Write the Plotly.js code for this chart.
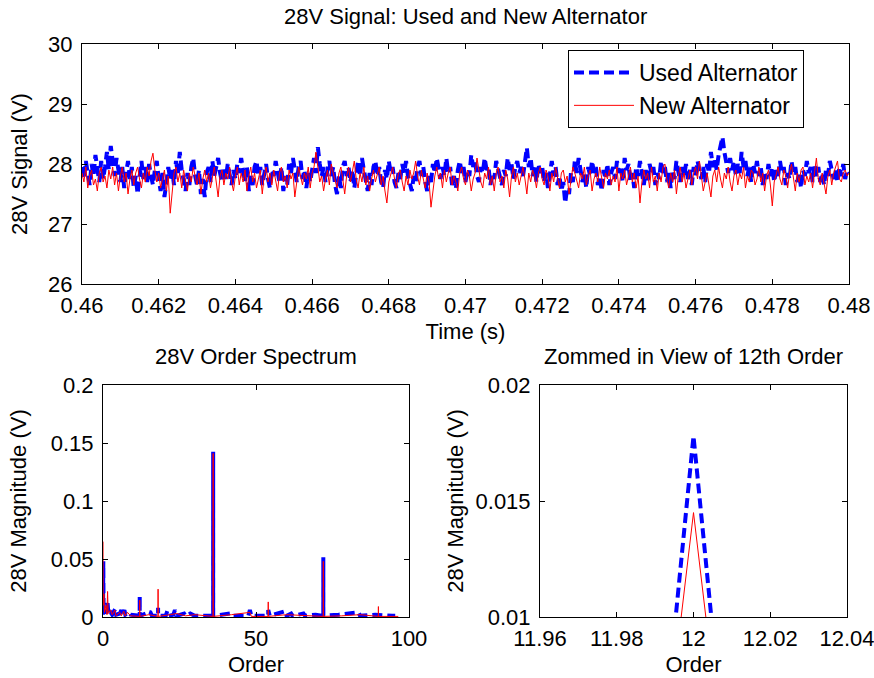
<!DOCTYPE html>
<html>
<head>
<meta charset="utf-8">
<script src="https://cdn.plot.ly/plotly-3.0.1.min.js"></script>
<style>html,body{margin:0;padding:0;background:#fff;}#chart{width:874px;height:678px;}</style>
</head>
<body>
<div id="chart"></div>
<script>
// ---- Time signal (0.46 s .. 0.48 s, 401 samples) ----
var tStart = 0.46;
var tStep = 0.00005;
var usedSignal = [
27.95,27.75,28.05,27.85,27.65,28.00,27.80,28.15,27.90,27.70,28.05,27.75,27.95,28.20,27.90,28.30,28.05,27.80,28.10,27.85,
27.70,27.95,27.60,27.85,28.05,27.75,27.95,27.60,27.80,27.50,27.85,28.05,27.75,27.95,27.70,28.00,27.80,27.65,27.90,28.05,
27.75,27.55,27.85,27.45,27.70,27.95,27.75,27.90,27.65,28.05,27.85,28.20,27.90,27.70,27.55,27.85,27.65,27.95,28.10,27.80,
27.65,27.90,27.50,27.75,27.45,27.85,27.95,27.70,28.05,27.80,27.95,28.10,27.85,27.70,27.95,27.75,28.00,27.85,27.65,27.90,
27.75,28.00,27.85,28.10,27.90,27.70,27.95,27.55,27.80,27.65,27.95,28.05,27.80,27.95,27.65,27.85,28.00,27.75,27.60,27.90,
27.80,28.05,27.85,27.70,27.95,27.55,27.80,27.65,28.00,27.85,28.10,27.90,27.70,27.95,28.05,27.75,27.90,27.60,27.85,27.70,
27.95,28.10,27.85,28.28,28.00,27.80,27.95,27.70,27.90,28.05,27.80,27.95,27.65,27.50,27.80,27.60,27.95,28.05,27.80,27.95,
27.70,27.90,27.60,27.85,28.05,27.80,28.10,27.90,27.70,27.55,27.85,27.65,27.95,28.05,27.80,27.95,27.70,27.60,27.90,27.75,
28.05,27.85,27.95,27.70,27.60,27.85,27.75,28.00,27.85,28.05,27.80,27.65,27.55,27.80,27.70,27.95,28.05,27.80,27.95,27.70,
27.55,27.80,27.70,28.00,27.85,28.10,27.90,27.75,27.95,27.80,28.10,27.85,27.95,27.65,27.80,27.60,27.90,28.05,27.85,27.95,
27.70,27.90,27.80,28.15,27.95,28.05,27.80,27.70,27.95,27.85,28.10,27.90,27.95,27.65,27.85,27.75,28.05,27.90,27.80,27.65,
27.90,27.80,28.10,27.90,28.00,27.75,27.95,28.05,27.85,27.95,27.80,28.05,28.27,27.95,28.10,27.80,27.95,27.70,28.00,27.85,
27.95,27.70,27.85,27.60,27.90,28.05,27.80,27.95,27.65,27.80,27.55,27.70,27.35,27.60,27.50,27.85,27.70,28.05,27.85,28.10,
27.90,27.70,27.85,27.60,27.95,27.80,28.05,27.85,27.95,27.65,27.80,27.55,27.90,27.75,28.00,27.65,27.85,27.95,27.75,28.05,
27.85,27.95,27.70,28.10,27.90,28.00,27.70,27.85,27.60,27.95,27.80,28.05,27.85,27.65,27.90,27.70,28.00,27.85,27.95,27.65,
27.85,27.75,28.05,27.85,27.95,27.70,27.85,27.60,27.90,27.75,28.05,27.85,27.70,27.95,27.80,28.00,27.75,27.90,27.65,27.95,
27.80,28.05,27.90,27.75,27.95,27.70,28.00,27.85,28.20,27.95,28.10,27.90,28.15,28.35,28.45,28.20,28.05,27.85,28.10,27.90,
28.05,27.80,28.00,27.85,28.20,27.95,28.05,27.80,27.95,27.70,28.00,27.85,28.05,27.80,27.95,27.65,27.85,27.75,28.00,27.80,
27.95,27.70,27.90,27.80,28.05,27.85,27.95,27.65,27.85,27.75,28.05,27.85,27.95,27.70,27.85,27.60,27.90,27.80,28.05,27.85,
27.95,27.70,28.00,27.80,27.95,27.70,27.85,27.65,27.90,27.80,28.05,27.85,27.75,27.90,27.70,27.95,27.80,28.00,27.75,27.90,
27.85
];
var newSignal = [
27.85,27.70,27.95,27.60,27.80,27.90,27.65,27.75,27.55,27.85,27.95,27.70,27.80,27.60,27.90,27.75,27.95,27.65,27.85,27.55,
27.80,27.95,27.70,27.85,27.50,27.75,27.90,27.65,27.85,27.95,27.75,27.60,27.85,27.70,27.95,27.80,28.05,28.18,27.90,27.70,
27.85,27.60,27.75,27.90,27.55,27.80,27.18,27.50,27.85,27.95,27.70,27.85,27.60,27.90,27.75,27.55,27.85,27.70,27.95,27.80,
27.65,27.85,27.50,27.75,27.90,27.70,27.85,27.60,27.80,27.95,27.70,27.45,27.80,27.90,27.65,27.85,27.75,27.95,27.70,27.55,
27.80,27.95,27.65,27.85,27.70,27.90,27.55,27.80,27.95,27.70,27.85,27.60,27.75,27.90,27.50,27.80,27.95,27.70,27.85,27.65,
27.90,27.75,27.55,27.85,27.95,27.70,27.80,27.60,27.90,27.75,27.85,27.45,27.70,27.95,27.80,27.65,27.85,27.75,27.95,27.60,
27.85,27.95,28.20,27.90,27.70,27.80,27.55,27.75,27.90,27.65,28.00,27.85,27.70,27.60,27.85,27.95,27.75,27.50,27.80,27.95,
27.70,27.85,28.05,27.75,27.60,27.85,27.70,27.95,27.65,27.80,27.55,27.75,27.90,27.70,27.85,27.95,27.65,27.80,27.55,27.35,
27.70,27.85,27.95,27.75,27.60,27.85,27.90,27.70,27.55,27.80,27.65,27.90,27.75,27.85,28.05,27.80,27.65,27.90,27.75,27.60,
27.85,27.70,27.28,27.60,27.80,27.95,27.75,27.85,27.60,27.90,27.70,27.85,27.95,27.65,27.80,27.70,27.55,27.85,27.95,27.75,
27.65,27.90,27.80,27.55,27.75,27.85,28.10,27.90,27.70,27.60,27.85,27.75,27.95,27.65,27.80,27.55,27.85,27.95,27.70,27.80,
27.60,27.90,27.75,27.45,27.80,27.95,27.70,27.85,27.65,27.80,27.95,27.75,27.50,27.85,27.70,27.90,27.80,27.60,27.85,27.95,
27.75,27.65,27.90,27.80,27.55,27.85,27.70,27.95,27.75,27.60,27.85,27.90,27.70,27.80,27.50,27.75,27.95,27.85,27.70,27.60,
27.85,27.75,27.95,27.65,27.80,27.90,27.55,27.75,27.85,27.70,27.95,27.80,27.60,27.85,27.75,27.90,27.65,27.80,27.70,27.95,
27.55,27.85,27.75,27.90,27.65,27.80,27.95,27.70,27.85,27.60,27.80,27.35,27.70,27.90,27.75,27.85,27.60,27.95,27.70,27.80,
27.55,27.85,27.70,27.95,28.00,27.75,27.60,27.85,27.70,27.90,27.50,27.80,27.95,27.70,27.85,27.60,27.75,27.90,27.65,27.85,
27.95,27.75,28.05,27.80,27.55,27.70,27.85,27.65,27.45,27.80,27.90,27.70,27.95,27.75,27.60,27.85,27.75,27.95,27.70,27.55,
27.80,27.90,27.65,27.85,27.75,27.95,27.60,27.80,27.70,27.90,27.85,27.65,27.75,27.95,27.70,27.85,27.55,27.80,27.90,27.65,
27.30,27.70,27.85,27.95,27.75,27.65,27.90,27.80,27.60,27.85,28.00,27.75,27.55,27.85,27.70,27.90,27.95,27.65,27.80,27.70,
27.85,27.60,27.90,28.10,27.75,27.65,27.85,27.70,27.50,27.80,27.90,27.65,27.85,27.95,28.05,27.75,27.70,27.85,27.90,27.80,
27.85
];

// ---- Order spectrum (sparse read-off points) ----
var usedOrder = [0,0.1,0.2,0.6,1.0,1.5,1.8,2.5,3.0,4.0,4.3,5.5,6.0,6.3,7.0,7.3,8.5,9.0,11.99,12.00,12.01,14.0,14.5,15.5,16.0,17.99,18.00,18.01,20.5,21.0,21.5,23.0,23.5,24.0,26.5,27.0,28.5,29.5,30.0,35.99,36.00,36.01,41.5,42.0,47.5,48.0,48.5,53.99,54.00,54.5,59.5,60.0,61.5,62.0,65.5,66.0,69.5,71.99,72.00,72.01,77.0,83.5,84.0,89.0,94.5,95.5];
var usedMag   = [0.002,0.048,0.004,0.006,0.003,0.012,0.002,0.004,0.002,0.007,0.002,0.003,0.006,0.002,0.006,0.002,0.004,0.002,0.001,0.0178,0.001,0.003,0.005,0.004,0.001,0.001,0.008,0.001,0.001,0.005,0.001,0.002,0.006,0.001,0.003,0.001,0.003,0.002,0.001,0.001,0.1425,0.001,0.003,0.001,0.001,0.006,0.001,0.001,0.006,0.001,0.005,0.001,0.003,0.001,0.003,0.001,0.002,0.001,0.0515,0.001,0.002,0.004,0.001,0.002,0.001,0.001];
var newOrder  = [0,0.05,0.3,0.5,1.0,1.3,1.5,1.7,2.5,3.0,3.9,4.2,5.5,6.0,6.8,7.2,8.0,9.0,11.99,12.00,12.01,15.0,17.99,18.00,18.01,22.0,24.0,27.0,30.0,35.99,36.00,36.01,42.0,48.0,48.5,53.99,54.00,54.01,60.0,66.0,71.99,72.00,72.01,78.0,84.0,89.99,90.00,90.01,96.5];
var newMag    = [0.065,0.01,0.02,0.004,0.01,0.002,0.022,0.003,0.006,0.002,0.006,0.001,0.004,0.001,0.005,0.001,0.004,0.001,0.0005,0.0145,0.0005,0.002,0.0005,0.024,0.0005,0.002,0.003,0.001,0.002,0.0005,0.141,0.0005,0.002,0.004,0.0005,0.0005,0.013,0.0005,0.002,0.001,0.0005,0.048,0.0005,0.001,0.002,0.0005,0.009,0.0005,0.0005];

// ---- Tick labels ----
var timeTicks = [0.46,0.462,0.464,0.466,0.468,0.47,0.472,0.474,0.476,0.478,0.48];
var timeTickText = ['0.46','0.462','0.464','0.466','0.468','0.47','0.472','0.474','0.476','0.478','0.48'];
var sigTicks = [26,27,28,29,30];
var specXTicks = [0,50,100];
var specYTicks = [0,0.05,0.1,0.15,0.2];
var specYText = ['0','0.05','0.1','0.15','0.2'];
var zoomXTicks = [11.96,11.98,12,12.02,12.04];
var zoomXText = ['11.96','11.98','12','12.02','12.04'];
var zoomYTicks = [0.01,0.015,0.02];
var zoomYText = ['0.01','0.015','0.02'];

function timesFor(arr){ return arr.map(function(_, i){ return +(tStart + i*tStep).toFixed(7); }); }

var BLUE = 'rgb(0,0,255)', RED = 'rgb(255,0,0)';
var FONT = 'Liberation Sans, Arial, Helvetica, sans-serif';
var FS = 22;
var blueLine = {color: BLUE, width: 4, dash: '10px,5px'};
var redLine = {color: RED, width: 1};

var traces = [
  {x: timesFor(usedSignal), y: usedSignal, type: 'scatter', mode: 'lines', name: 'Used Alternator', line: blueLine, xaxis: 'x', yaxis: 'y'},
  {x: timesFor(newSignal), y: newSignal, type: 'scatter', mode: 'lines', name: 'New Alternator', line: redLine, xaxis: 'x', yaxis: 'y'},
  {x: usedOrder, y: usedMag, type: 'scatter', mode: 'lines', showlegend: false, line: blueLine, xaxis: 'x2', yaxis: 'y2'},
  {x: newOrder, y: newMag, type: 'scatter', mode: 'lines', showlegend: false, line: redLine, xaxis: 'x2', yaxis: 'y2'},
  {x: usedOrder, y: usedMag, type: 'scatter', mode: 'lines', showlegend: false, line: blueLine, xaxis: 'x3', yaxis: 'y3'},
  {x: newOrder, y: newMag, type: 'scatter', mode: 'lines', showlegend: false, line: redLine, xaxis: 'x3', yaxis: 'y3'}
];

function ax(o){
  var base = {showline: true, linecolor: '#000', linewidth: 1, mirror: 'ticks', ticks: 'inside', ticklen: 5, tickcolor: '#000',
    showgrid: false, zeroline: false, tickfont: {family: FONT, size: FS, color: '#000'}, fixedrange: true,
    ticklabeloverflow: 'allow'};
  for (var k in o) base[k] = o[k];
  return base;
}
var W = 874, H = 678;
function dx(a,b){ return [a/W, b/W]; }
function dy(top,bottom){ return [1-bottom/H, 1-top/H]; }
function ttl(t, s){ return {text: t, font: {family: FONT, size: FS, color: '#000'}, standoff: s}; }

var layout = {
  width: W, height: H,
  margin: {l:0, r:0, t:0, b:0},
  paper_bgcolor: '#fff', plot_bgcolor: '#fff',
  font: {family: FONT, size: FS, color: '#000'},
  showlegend: true,
  legend: {x: 568/W, y: 1-50/H, xanchor: 'left', yanchor: 'top', bgcolor: '#fff', bordercolor: '#000', borderwidth: 1,
    font: {family: FONT, size: 23, color: '#000'}, itemwidth: 60},
  xaxis: ax({domain: dx(82,849), range: [0.46,0.48], tickvals: timeTicks, ticktext: timeTickText, anchor: 'y', ticklabelstandoff: 2,
    title: ttl('Time (s)', 6)}),
  yaxis: ax({domain: dy(44,284), range: [26,30], tickvals: sigTicks, anchor: 'x', ticklabelstandoff: 4,
    title: ttl('28V Signal (V)', 14)}),
  xaxis2: ax({domain: dx(103,409), range: [0,100], tickvals: specXTicks, anchor: 'y2', ticklabelstandoff: 2,
    title: ttl('Order', 6)}),
  yaxis2: ax({domain: dy(385,617), range: [0,0.2], tickvals: specYTicks, ticktext: specYText, anchor: 'x2', ticklabelstandoff: 4,
    title: ttl('28V Magnitude (V)', 18)}),
  xaxis3: ax({domain: dx(540,847), range: [11.96,12.04], tickvals: zoomXTicks, ticktext: zoomXText, anchor: 'y3', ticklabelstandoff: 2,
    title: ttl('Order', 6)}),
  yaxis3: ax({domain: dy(385,617), range: [0.01,0.02], tickvals: zoomYTicks, ticktext: zoomYText, anchor: 'x3', ticklabelstandoff: 4,
    title: ttl('28V Magnitude (V)', 5)}),
  annotations: [
    {text: '28V Signal: Used and New Alternator', xref: 'paper', yref: 'paper', x: 465.5/W, y: 1-17/H, xanchor: 'center', yanchor: 'middle', showarrow: false, font: {family: FONT, size: FS, color: '#000'}},
    {text: '28V Order Spectrum', xref: 'paper', yref: 'paper', x: 256/W, y: 1-356/H, xanchor: 'center', yanchor: 'middle', showarrow: false, font: {family: FONT, size: FS, color: '#000'}},
    {text: 'Zommed in View of 12th Order', xref: 'paper', yref: 'paper', x: 693.5/W, y: 1-356/H, xanchor: 'center', yanchor: 'middle', showarrow: false, font: {family: FONT, size: FS, color: '#000'}}
  ]
};

Plotly.newPlot('chart', traces, layout, {displayModeBar: false, staticPlot: true});
</script>
</body>
</html>
